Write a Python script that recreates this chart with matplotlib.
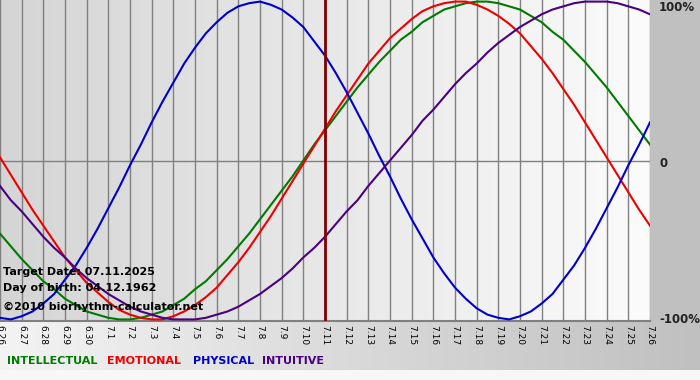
import numpy as np
import matplotlib
matplotlib.use("Agg")
import matplotlib.pyplot as plt
import matplotlib.transforms as mtransforms

# day labels (month.day)
dates = ['6.26', '6.27', '6.28', '6.29', '6.30',
         '7.1', '7.2', '7.3', '7.4', '7.5', '7.6', '7.7', '7.8', '7.9', '7.10',
         '7.11', '7.12', '7.13', '7.14', '7.15', '7.16', '7.17', '7.18', '7.19',
         '7.20', '7.21', '7.22', '7.23', '7.24', '7.25', '7.26']
target_date = '7.11'

# values every half day, -1 .. 1
physical = [-0.99, -1.00, -0.98, -0.95, -0.90, -0.84, -0.75, -0.66, -0.55, -0.43,
            -0.30, -0.17, -0.03, 0.10, 0.24, 0.37, 0.49, 0.61, 0.71, 0.80,
            0.87, 0.93, 0.97, 0.99, 1.00, 0.98, 0.95, 0.90, 0.84, 0.75,
            0.66, 0.55, 0.43, 0.30, 0.17, 0.03, -0.10, -0.24, -0.37, -0.49,
            -0.61, -0.71, -0.80, -0.87, -0.93, -0.97, -0.99, -1.00, -0.98, -0.95,
            -0.90, -0.84, -0.75, -0.66, -0.55, -0.43, -0.30, -0.17, -0.03, 0.10, 0.24]
emotional = [0.02, -0.09, -0.20, -0.31, -0.41, -0.51, -0.61, -0.69, -0.77, -0.83,
             -0.89, -0.94, -0.97, -0.99, -1.00, -1.00, -0.98, -0.95, -0.91, -0.86,
             -0.80, -0.72, -0.64, -0.55, -0.45, -0.35, -0.24, -0.13, -0.02, 0.09,
             0.20, 0.31, 0.41, 0.51, 0.61, 0.69, 0.77, 0.83, 0.89, 0.94,
             0.97, 0.99, 1.00, 1.00, 0.98, 0.95, 0.91, 0.86, 0.80, 0.72,
             0.64, 0.55, 0.45, 0.35, 0.24, 0.13, 0.02, -0.09, -0.20, -0.31, -0.41]
intellectual = [-0.46, -0.54, -0.62, -0.69, -0.76, -0.81, -0.87, -0.91, -0.95, -0.97,
                -0.99, -1.00, -1.00, -0.99, -0.97, -0.95, -0.91, -0.87, -0.81, -0.76,
                -0.69, -0.62, -0.54, -0.46, -0.37, -0.28, -0.19, -0.10, 0.00, 0.10,
                0.19, 0.28, 0.37, 0.46, 0.54, 0.62, 0.69, 0.76, 0.81, 0.87,
                0.91, 0.95, 0.97, 0.99, 1.00, 1.00, 0.99, 0.97, 0.95, 0.91,
                0.87, 0.81, 0.76, 0.69, 0.62, 0.54, 0.46, 0.37, 0.28, 0.19, 0.10]
intuitive = [-0.16, -0.25, -0.32, -0.40, -0.48, -0.55, -0.61, -0.68, -0.74, -0.79,
             -0.84, -0.88, -0.92, -0.95, -0.97, -0.99, -1.00, -1.00, -1.00, -0.99,
             -0.97, -0.95, -0.92, -0.88, -0.84, -0.79, -0.74, -0.68, -0.61, -0.55,
             -0.48, -0.40, -0.32, -0.25, -0.16, -0.08, 0.00, 0.08, 0.16, 0.25,
             0.32, 0.40, 0.48, 0.55, 0.61, 0.68, 0.74, 0.79, 0.84, 0.88,
             0.92, 0.95, 0.97, 0.99, 1.00, 1.00, 1.00, 0.99, 0.97, 0.95, 0.92]

series = [('INTELLECTUAL', intellectual, '#007a00'),
          ('EMOTIONAL', emotional, '#ee0000'),
          ('PHYSICAL', physical, '#0000cc'),
          ('INTUITIVE', intuitive, '#4b0082')]
legend_x = [7, 107, 193, 262]

info_lines = ['Target Date: 07.11.2025', 'Day of birth: 04.12.1962',
              '\u00a92010 biorhythm-calculator.net']

W, H = 700, 380
pw, ph = 650, 321

fig = plt.figure(figsize=(W / 100, H / 100), dpi=100)

# background panels
bg = np.ones((H, W, 3))
gx = np.linspace(0, 1, pw)
bg[:ph, :pw, :] = (0.835 + 0.15 * gx)[None, :, None]
bg[:ph, pw:, :] = 0.753
bb = np.linspace(0.955, 0.753, W)
bg[ph:370, :, :] = bb[None, :, None]
bg[370:, :, :] = 0.97
bax = fig.add_axes([0, 0, 1, 1], zorder=-5)
bax.imshow(bg, aspect='auto', extent=[0, W, H, 0], interpolation='bilinear')
bax.set_axis_off()

ax = fig.add_axes([0, 1 - ph / H, pw / W, ph / H])
ax.patch.set_alpha(0)
days = np.arange(len(dates))
xs = np.arange(len(physical)) / 2.0
ax.set_xlim(0, len(dates) - 1)
ax.set_ylim(-1.01, 1.01)
for s in ax.spines.values():
    s.set_visible(False)

for xi in days:
    ax.axvline(xi, color='#808080', lw=1.0, zorder=1)
ax.axhline(0, color='#808080', lw=1.0, zorder=1)
ax.axhline(-1.01, color='#808080', lw=1.5, zorder=1, clip_on=False)

for name, vals, col in series:
    ax.plot(xs, vals, color=col, lw=1.5, zorder=3)

ax.axvline(dates.index(target_date), color='#800000', lw=2.0, zorder=4)

ax.set_xticks(days)
ax.set_xticklabels(dates, rotation=270, fontsize=6.5, va='top', ha='center')
ax.tick_params(axis='x', length=0, pad=3)
ax.set_yticks([])

# right side percent labels
tr = mtransforms.blended_transform_factory(ax.transAxes, ax.transData)
for val, lab in [(0.965, '100%'), (-0.02, '0'), (-1.0, '-100%')]:
    ax.text(1.0 + 9 / pw, val, lab, transform=tr, ha='left', va='center',
            fontsize=8.5, fontweight='bold', color='#222222', clip_on=False)

# info text
for i, line in enumerate(info_lines):
    yy = 272 + i * 16 + (3 if i == 2 else 0)
    fig.text(3 / W, 1 - yy / H, line, ha='left', va='center', fontsize=8,
             fontweight='bold', color='black', zorder=10)

# legend words
for (name, vals, col), lx in zip(series, legend_x):
    fig.text(lx / W, 1 - 361 / H, name, ha='left', va='center', fontsize=8,
             fontweight='bold', color=col)

fig.savefig('out.png', dpi=100)
